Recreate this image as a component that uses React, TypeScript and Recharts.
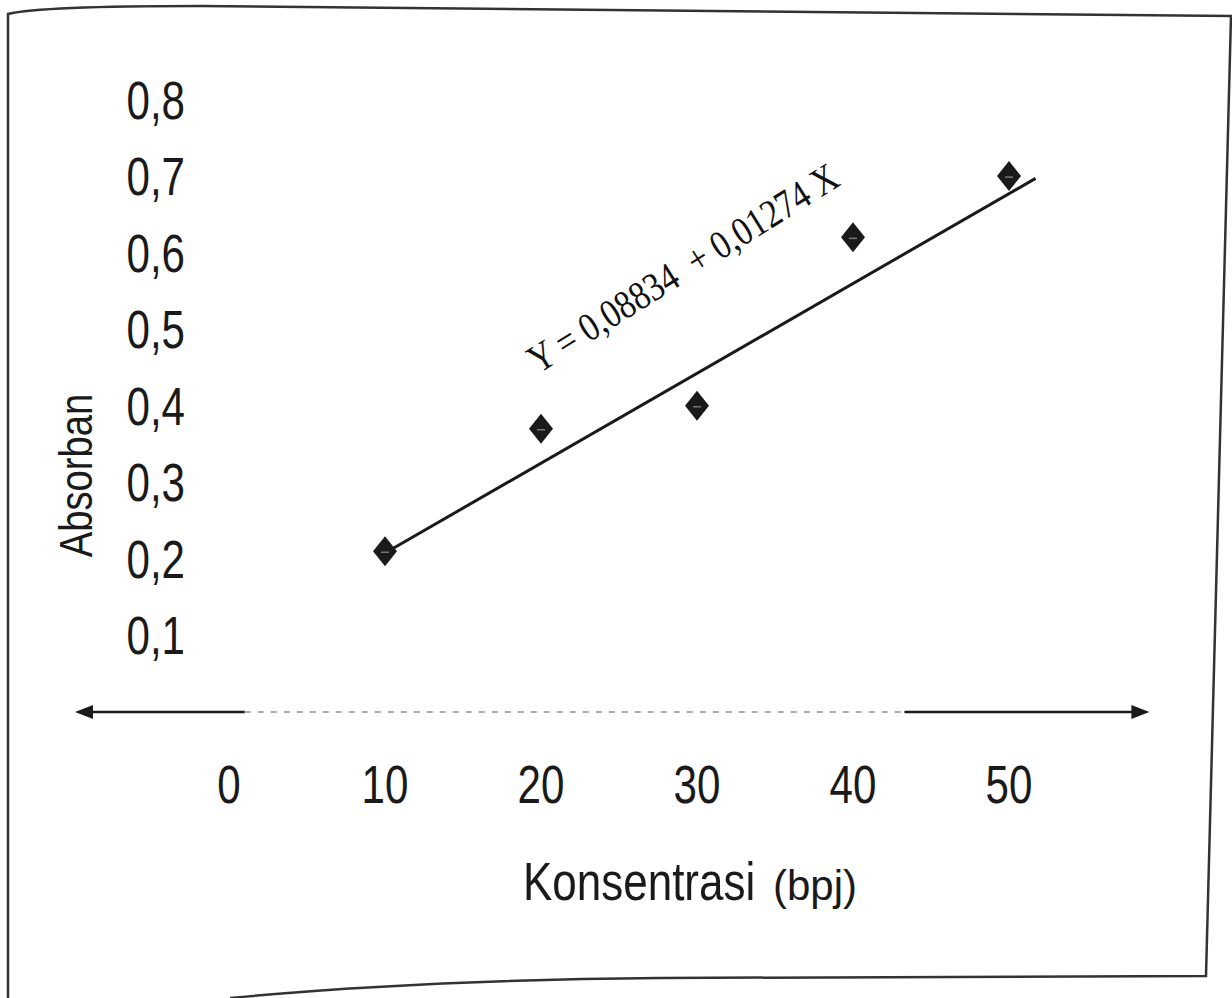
import { ScatterChart, Scatter, XAxis, YAxis, ReferenceLine, ReferenceDot, Label } from 'recharts';

// calibration data
const konsentrasi = [10, 20, 30, 40, 50];
const absorban = [0.21, 0.37, 0.4, 0.62, 0.7];
const xTicks = [0, 10, 20, 30, 40, 50];
const yTicks = [0.1, 0.2, 0.3, 0.4, 0.5, 0.6, 0.7, 0.8];

// drawn regression line (end points as they appear in the figure)
const fitX = [10.2, 51.7];
const fitY = [0.21, 0.697];
const equation = 'Y = 0,08834  + 0,01274 X';
const eqPos = { x: 29.1, y: 0.58 };

const points = konsentrasi.map((x, i) => ({ x, y: absorban[i] }));
const fitLine = fitX.map((x, i) => ({ x, y: fitY[i] }));

const INK = '#1a1a1a';
const SANS = '"Liberation Sans", Arial, sans-serif';

// the scan uses a condensed face, squeeze the regular one horizontally
const Squeezed = ({ x, y, sx = 0.78, rotate = 0, anchor = 'start', size, children }: any) => (
  <text transform={`translate(${x},${y}) rotate(${rotate}) scale(${sx},1)`} textAnchor={anchor}
    fontFamily={SANS} fontSize={size} fill={INK}>
    {children}
  </text>
);

const Diamond = (props: any) => {
  const { cx, cy } = props;
  return (
    <g>
      <polygon points={`${cx},${cy - 15} ${cx + 12},${cy} ${cx},${cy + 15} ${cx - 12},${cy}`} fill={INK} />
      <line x1={cx - 4} y1={cy + 1} x2={cx + 4} y2={cy + 1} stroke="#777" strokeWidth={1.5} />
    </g>
  );
};

const XTick = (props: any) => {
  const { x, y, payload } = props;
  return <Squeezed x={x} y={y + 91} anchor="middle" size={54}>{payload.value}</Squeezed>;
};

const YTick = (props: any) => {
  const { x, y, payload } = props;
  return (
    <Squeezed x={x + 112} y={y + 19} anchor="end" size={54}>
      {payload.value.toFixed(1).replace('.', ',')}
    </Squeezed>
  );
};

const XTitle = (props: any) => {
  const { x, y, width } = props.viewBox;
  const cx = x + width / 2;
  return (
    <g>
      <Squeezed x={cx - 96} y={y + 188} sx={0.83} size={53}>Konsentrasi</Squeezed>
      <text x={cx + 154} y={y + 188} fontFamily={SANS} fontSize={42} fill={INK}>(bpj)</text>
    </g>
  );
};

const YTitle = (props: any) => {
  const { x, y, height } = props.viewBox;
  return (
    <Squeezed x={x + 79} y={y + height / 2 + 108} rotate={-90} sx={0.83} anchor="middle" size={46}>
      Absorban
    </Squeezed>
  );
};

// x axis drawn as a double arrow, faded in the middle like the scan
const ArrowAxis = (props: any) => {
  const { x1, y1, x2 } = props;
  const a = x1 + (x2 - x1) * 0.158;
  const b = x1 + (x2 - x1) * 0.772;
  return (
    <g>
      <line x1={x1 + 10} y1={y1} x2={a} y2={y1} stroke={INK} strokeWidth={2.5} />
      <line x1={a} y1={y1} x2={b} y2={y1} stroke="#aaa" strokeWidth={2} strokeDasharray="6 7" />
      <line x1={b} y1={y1} x2={x2 - 10} y2={y1} stroke={INK} strokeWidth={2.5} />
      <polygon points={`${x1},${y1} ${x1 + 18},${y1 - 7} ${x1 + 18},${y1 + 7}`} fill={INK} />
      <polygon points={`${x2},${y1} ${x2 - 18},${y1 - 7} ${x2 - 18},${y1 + 7}`} fill={INK} />
    </g>
  );
};

const EquationText = (props: any) => {
  const { cx, cy } = props;
  return (
    <text transform={`translate(${cx},${cy}) rotate(-32) scale(0.85,1)`} textAnchor="middle" dominantBaseline="central"
      fontFamily='"Liberation Serif", "Times New Roman", serif' fontSize={40} fill="#111" style={{ whiteSpace: 'pre' }}>
      {equation}
    </text>
  );
};

export default function App() {
  return (
    <div style={{ position: 'absolute', left: 0, top: 0, width: 1232, height: 998, background: '#fff' }}>
      <ScatterChart width={1232} height={998} margin={{ top: 23, right: 67, bottom: 136, left: 13 }}>
        <XAxis type="number" dataKey="x" domain={[-10, 60]} ticks={xTicks} allowDataOverflow
          axisLine={false} tickLine={false} tickSize={0} tickMargin={0} height={150} tick={<XTick />}
          label={<Label content={XTitle} />} />
        <YAxis type="number" dataKey="y" domain={[0, 0.9]} ticks={yTicks} allowDataOverflow
          axisLine={false} tickLine={false} tickSize={0} tickMargin={0} width={60} tick={<YTick />}
          label={<Label content={YTitle} />} />
        <ReferenceLine segment={[{ x: -9.87, y: 0 }, { x: 59, y: 0 }]} shape={ArrowAxis} ifOverflow="visible" />
        <Scatter data={fitLine} line={{ stroke: INK, strokeWidth: 3 }} shape={() => <g />} isAnimationActive={false} />
        <Scatter data={points} shape={<Diamond />} isAnimationActive={false} />
        <ReferenceDot x={eqPos.x} y={eqPos.y} r={0} shape={EquationText} ifOverflow="visible" />
      </ScatterChart>
      <svg width={1232} height={998} style={{ position: 'absolute', left: 0, top: 0, pointerEvents: 'none' }}>
        <path d="M 8 998 L 8 14 Q 40 6 200 6 L 1232 16 M 1231 16 L 1206 976 L 660 978 Q 420 980 230 998"
          fill="none" stroke="#333" strokeWidth={2.5} />
      </svg>
    </div>
  );
}
